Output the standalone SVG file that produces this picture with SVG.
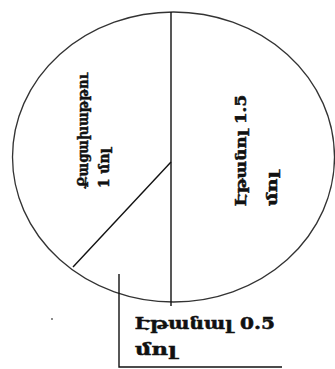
<svg xmlns="http://www.w3.org/2000/svg" width="335" height="369" viewBox="0 0 335 369">
<style>
.ln{stroke:#111;stroke-width:1.4;fill:none}
.el{stroke:#333;stroke-width:1.3;fill:none}
.t{font-family:"DejaVu Serif","DejaVu Sans",serif;font-weight:bold;fill:#111;stroke:#111;stroke-width:0.5}
.s{font-size:14px}
.b{font-size:16px}
</style>
<rect width="335" height="369" fill="#fff"/>
<g id="pie">
<ellipse class="el" cx="173.5" cy="157" rx="161" ry="145"/>
</g>
<g id="connectors">
<line class="ln" x1="171" y1="12" x2="171" y2="306"/>
<line class="ln" x1="171" y1="162" x2="73" y2="267"/>
<polyline class="ln" points="119,274 119,367 282,367"/>
</g>
<g id="acid">
<text class="t s" transform="translate(88,188) rotate(-90)" textLength="115" lengthAdjust="spacingAndGlyphs">Քացախաթթու</text>
<text class="t s" transform="translate(109,188) rotate(-90)" textLength="40" lengthAdjust="spacingAndGlyphs">1 մոլ</text>
</g>
<g id="ethanol">
<text class="t s" transform="translate(246,206) rotate(-90)" textLength="111" lengthAdjust="spacingAndGlyphs">Էթանոլ 1.5</text>
<text class="t s" transform="translate(277,206) rotate(-90)" textLength="35" lengthAdjust="spacingAndGlyphs">մոլ</text>
</g>
<g id="ethanal">
<text class="t b" x="135" y="329" textLength="140" lengthAdjust="spacingAndGlyphs">Էթանալ 0.5</text>
<text class="t b" x="135" y="355" textLength="42" lengthAdjust="spacingAndGlyphs">մոլ</text>
</g>
<circle cx="52" cy="319" r="0.9" fill="#555"/>
</svg>
